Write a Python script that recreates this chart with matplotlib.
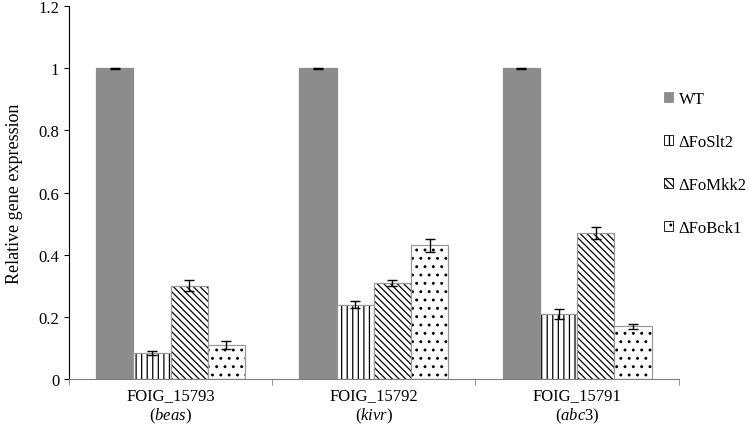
import numpy as np
import matplotlib
matplotlib.use("Agg")
import matplotlib.pyplot as plt

plt.rcParams['font.family'] = ['Liberation Serif', 'DejaVu Serif']
plt.rcParams['mathtext.fontset'] = 'custom'
plt.rcParams['mathtext.rm'] = 'Liberation Serif'
plt.rcParams['mathtext.it'] = 'Liberation Serif:italic'
plt.rcParams['hatch.linewidth'] = 0.9

genes = ['FOIG_15793', 'FOIG_15792', 'FOIG_15791']
gene_names = ['beas', 'kivr', 'abc3']
strains = ['WT', '\u0394FoSlt2', '\u0394FoMkk2', '\u0394FoBck1']

wt = [1.0, 1.0, 1.0]
slt2 = [0.085, 0.24, 0.21]
mkk2 = [0.30, 0.31, 0.47]
bck1 = [0.11, 0.43, 0.17]
wt_err = [0.002, 0.002, 0.002]
slt2_err = [0.007, 0.010, 0.015]
mkk2_err = [0.018, 0.010, 0.020]
bck1_err = [0.012, 0.022, 0.008]

valores = [wt, slt2, mkk2, bck1]
erros = [wt_err, slt2_err, mkk2_err, bck1_err]
cores = ['#8c8c8c', 'white', 'white', 'white']
hachuras = [None, '|||', '\\\\\\\\\\', '..']

fig = plt.figure(figsize=(7.5, 4.39), dpi=100)
ax = fig.add_axes([0.092, 0.134, 0.813, 0.85])

x = np.arange(len(genes))
larg = 0.183
for i in range(4):
    pos = x + (i - 1.5) * larg
    # preenchimento com hachura preta
    ax.bar(pos, valores[i], larg, color=cores[i], edgecolor='black',
           hatch=hachuras[i], linewidth=0)
    # contorno cinza + barra de erro
    ax.bar(pos, valores[i], larg, color='none', edgecolor='#9a9a9a' if i else '#8c8c8c',
           linewidth=0.9, yerr=erros[i], capsize=3.5,
           error_kw=dict(ecolor='black', elinewidth=1, capthick=1))
    # artista só para a legenda
    ax.bar([np.nan], [np.nan], color=cores[i], edgecolor='black' if i else '#8c8c8c',
           hatch=hachuras[i], linewidth=0.6, label=strains[i])

ax.set_xlim(-0.5, 2.5)
ax.set_ylim(0, 1.2)
ax.set_yticks(np.arange(0, 1.21, 0.2))
ax.set_yticklabels(['0', '0.2', '0.4', '0.6', '0.8', '1', '1.2'], fontsize=12)
ax.set_ylabel('Relative gene expression', fontsize=13, labelpad=11)

ax.set_xticks(x)
ax.set_xticklabels([f'{g}\n($\\it{{{n}}}$)' for g, n in zip(genes, gene_names)], fontsize=12)
ax.tick_params(axis='x', length=0, pad=6)
ax.set_xticks([-0.5, 0.5, 1.5, 2.5], minor=True)
ax.tick_params(axis='x', which='minor', length=4, direction='out', color='#808080')

ax.spines['top'].set_visible(False)
ax.spines['right'].set_visible(False)
ax.spines['bottom'].set_color('#808080')

ax.legend(loc='upper left', bbox_to_anchor=(0.876, 0.806), bbox_transform=fig.transFigure,
          frameon=False, fontsize=12, handlelength=0.55, handleheight=0.55,
          labelspacing=1.62, handletextpad=0.35, borderaxespad=0)

fig.savefig('out.png', dpi=100)
